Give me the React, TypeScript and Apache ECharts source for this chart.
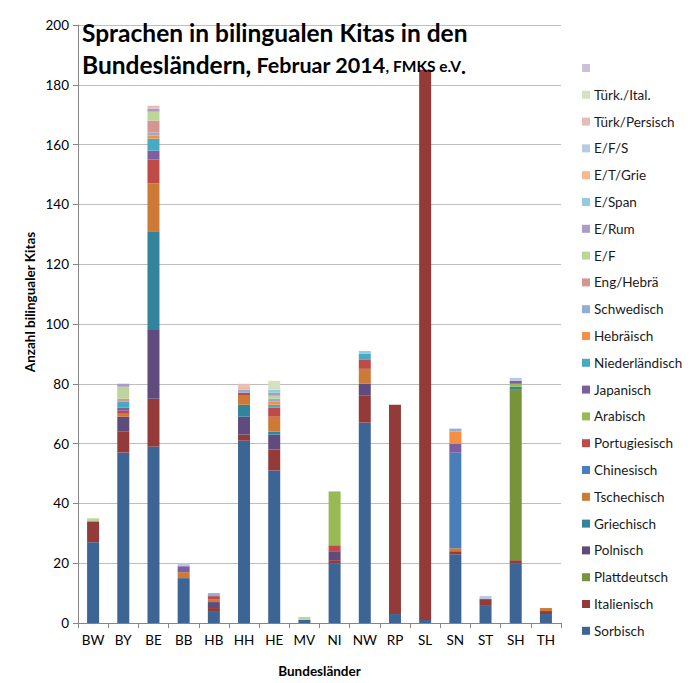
import React, { useEffect, useRef } from "react";
import * as echarts from "echarts";

const categories = ["BW", "BY", "BE", "BB", "HB", "HH", "HE", "MV", "NI", "NW", "RP", "SL", "SN", "ST", "SH", "TH"];

const sorbisch = [27, 57, 59, 15, 4, 61, 51, 1, 20, 67, 3, 1, 23, 6, 20, 3];
const italienisch = [7, 7, 16, 0, 1, 2, 7, 0, 1, 9, 70, 184, 1, 2, 1, 1];
const plattdeutsch = [0, 0, 0, 0, 0, 0, 0, 0, 0, 0, 0, 0, 0, 0, 57, 0];
const polnisch = [0, 5, 23, 0, 2, 6, 5, 0, 3, 4, 0, 0, 0, 0, 0, 0];
const griechisch = [0, 0, 33, 0, 0, 4, 1, 0, 0, 0, 0, 0, 0, 0, 1, 0];
const tschechisch = [0, 1, 16, 2, 1, 3, 5, 0, 0, 5, 0, 0, 1, 0, 0, 1];
const chinesisch = [0, 0, 0, 0, 0, 0, 0, 0, 0, 0, 0, 0, 32, 0, 0, 0];
const portugiesisch = [0, 1, 8, 0, 1, 1, 3, 0, 2, 3, 0, 0, 0, 0, 0, 0];
const arabisch = [0, 0, 0, 0, 0, 0, 0, 0, 18, 0, 0, 0, 0, 0, 1, 0];
const japanisch = [0, 1, 3, 2, 0, 0, 0, 0, 0, 0, 0, 0, 3, 0, 1, 0];
const niederlaendisch = [0, 2, 4, 0, 0, 0, 1, 0, 0, 2, 0, 0, 0, 0, 0, 0];
const hebraeisch = [0, 0, 1, 0, 0, 0, 1, 0, 0, 0, 0, 0, 4, 0, 0, 0];
const schwedisch = [0, 0, 1, 0, 1, 1, 1, 0, 0, 0, 0, 0, 1, 0, 0, 0];
const engHebrae = [0, 1, 4, 0, 0, 0, 0, 0, 0, 0, 0, 0, 0, 0, 0, 0];
const eF = [1, 4, 3, 0, 0, 0, 1, 1, 0, 0, 0, 0, 0, 0, 0, 0];
const eRum = [0, 1, 1, 0, 0, 0, 1, 0, 0, 0, 0, 0, 0, 0, 0, 0];
const eSpan = [0, 0, 0, 0, 0, 0, 1, 0, 0, 1, 0, 0, 0, 0, 0, 0];
const eTGrie = [0, 0, 0, 0, 0, 1, 0, 0, 0, 0, 0, 0, 0, 0, 0, 0];
const eFS = [0, 0, 0, 1, 0, 0, 0, 0, 0, 0, 0, 0, 0, 1, 1, 0];
const tuerkPersisch = [0, 0, 1, 0, 0, 1, 0, 0, 0, 0, 0, 0, 0, 0, 0, 0];
const tuerkItal = [0, 0, 0, 0, 0, 0, 3, 0, 0, 0, 0, 0, 0, 0, 0, 0];
const unnamed = [0, 0, 0, 0, 0, 0, 0, 0, 0, 0, 0, 0, 0, 0, 0, 0];

const seriesNames = [
  "Sorbisch", "Italienisch", "Plattdeutsch", "Polnisch", "Griechisch", "Tschechisch",
  "Chinesisch", "Portugiesisch", "Arabisch", "Japanisch", "Niederländisch", "Hebräisch",
  "Schwedisch", "Eng/Hebrä", "E/F", "E/Rum", "E/Span", "E/T/Grie", "E/F/S",
  "Türk/Persisch", "Türk./Ital.", " ",
];
const seriesData = [
  sorbisch, italienisch, plattdeutsch, polnisch, griechisch, tschechisch,
  chinesisch, portugiesisch, arabisch, japanisch, niederlaendisch, hebraeisch,
  schwedisch, engHebrae, eF, eRum, eSpan, eTGrie, eFS, tuerkPersisch, tuerkItal, unnamed,
];
const seriesColors = [
  "#3C6494", "#943A38", "#77933C", "#5F4B7E", "#31849B", "#CD7A36",
  "#4A7EBB", "#BE4B48", "#98B954", "#7D5FA0", "#46AAC5", "#F68E43",
  "#91AED6", "#D59593", "#BED59A", "#A99BC5", "#93CDDD", "#FAB88E", "#B8C9E2",
  "#E6BCBB", "#D4E2BF", "#CCC1DA",
];

const FONT = "Lato";

export default function App() {
  const ref = useRef<HTMLDivElement>(null);
  useEffect(() => {
    if (!ref.current) return;
    const chart = echarts.init(ref.current, null, { renderer: "svg" });
    chart.setOption({
      animation: false,
      backgroundColor: "#ffffff",
      textStyle: { fontFamily: FONT },
      title: {
        left: 77,
        top: 8,
        text:
          "{a|Sprachen in bilingualen Kitas in den}\n{a|Bundesländern,}{b| Februar 2014}{c|, FMKS e.V}{d|.}",
        textStyle: {
          rich: {
            a: { fontFamily: FONT, fontWeight: "bold", fontSize: 24.5, color: "#000", lineHeight: 32, verticalAlign: "bottom" },
            b: { fontFamily: FONT, fontWeight: "bold", fontSize: 21.5, color: "#000", verticalAlign: "bottom", padding: [0, 0, 1, 0] },
            c: { fontFamily: FONT, fontWeight: "bold", fontSize: 15.5, color: "#000", verticalAlign: "bottom", padding: [0, 0, 3, 0] },
            d: { fontFamily: FONT, fontWeight: "bold", fontSize: 21, color: "#000", verticalAlign: "bottom", padding: [0, 0, 1, 0] },
          },
        },
      },
      legend: {
        orient: "vertical",
        left: 582,
        top: 61,
        itemWidth: 8,
        itemHeight: 8,
        itemGap: 12.8,
        padding: 0,
        icon: "rect",
        data: seriesNames.slice().reverse(),
        textStyle: { fontFamily: FONT, fontSize: 13.5, lineHeight: 14, color: "#1a1a1a", padding: [0, 0, 0, -1] },
      },
      graphic: [
        {
          type: "text",
          x: 30,
          y: 302,
          rotation: Math.PI / 2,
          style: {
            text: "Anzahl bilingualer Kitas",
            fontFamily: FONT,
            fontWeight: "bold",
            fontSize: 13.5,
            fill: "#000",
            align: "center",
            verticalAlign: "middle",
          },
        },
      ],
      grid: { left: 78, right: 130, top: 25, bottom: 59, containLabel: false },
      xAxis: {
        type: "category",
        data: categories,
        name: "Bundesländer",
        nameLocation: "middle",
        nameGap: 41,
        nameTextStyle: { fontFamily: FONT, fontWeight: "bold", fontSize: 13.5, color: "#000" },
        axisLine: { show: true, lineStyle: { color: "#868686" } },
        axisTick: { show: true, length: 5, alignWithLabel: false, lineStyle: { color: "#868686" } },
        axisLabel: { fontFamily: FONT, fontSize: 13.5, color: "#000", margin: 10, interval: 0 },
      },
      yAxis: {
        type: "value",
        min: 0,
        max: 200,
        interval: 20,
        axisLine: { show: true, lineStyle: { color: "#868686" } },
        axisTick: { show: true, length: 5, lineStyle: { color: "#868686" } },
        axisLabel: { fontFamily: FONT, fontSize: 13.5, color: "#000", margin: 9 },
        splitLine: { show: true, lineStyle: { color: "#BEBEBE" } },
      },
      series: seriesNames.map((name, i) => ({
        name,
        type: "bar",
        stack: "total",
        barWidth: 12,
        data: seriesData[i],
        itemStyle: { color: seriesColors[i] },
      })),
    });
    return () => chart.dispose();
  }, []);
  return <div ref={ref} style={{ position: "fixed", left: 0, top: 0, width: 691, height: 683 }} />;
}
